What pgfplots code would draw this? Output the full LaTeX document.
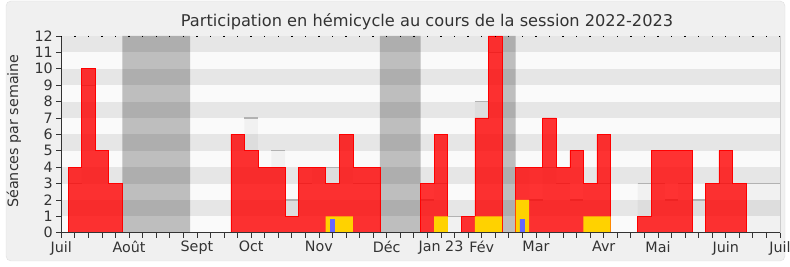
\documentclass[border=0pt]{standalone}
\usepackage{fontspec}
\setmainfont{DejaVu Sans}
\usepackage{pgfplots}
\pgfplotsset{compat=1.18}
\definecolor{stripe}{HTML}{E6E6E6}
\definecolor{bgw}{HTML}{FAFAFA}
\definecolor{panel}{HTML}{F0F0F0}
\definecolor{txt}{HTML}{333333}
\definecolor{gold}{HTML}{FFD200}
\definecolor{bluebar}{HTML}{6666FF}
\begin{document}
\begin{tikzpicture}
\path[use as bounding box, fill=white] (0,0) rectangle (790pt,267pt);
\draw[fill=panel, draw=black!12, rounded corners=5pt] (6pt,6pt) rectangle (785pt,266pt);
\node[anchor=base, text=txt, font=\fontsize{16.2}{18}\selectfont] at (427pt,240.8pt) {Participation en hémicycle au cours de la session 2022-2023};
\node[rotate=90, text=txt, font=\fontsize{14.3}{17}\selectfont] at (14pt,136pt) {Séances par semaine};
\begin{axis}[
  at={(61.3pt,34.3pt)}, anchor=south west,
  scale only axis, width=718.7pt, height=196.7pt,
  xmin=0, xmax=53, ymin=0, ymax=12,
  axis x line*=bottom, axis y line*=left,
  axis line style={draw=txt, line width=0.8pt, -},
  xtick={0,5,10,14,19,24,28,31,35,40,44,49,53},
  xticklabels={Juil,Août,Sept,Oct,Nov,Déc,Jan 23,Fév,Mar,Avr,Mai,Juin,Juil},
  minor xtick={0,...,53},
  ytick={0,...,12},
  tick align=outside, major tick length=5pt, minor tick length=5pt,
  tick style={draw=txt, line width=0.8pt},
  ticklabel style={font=\fontsize{14.3}{16}\selectfont, text=txt},
  /pgf/number format/assume math mode=true,
  axis background/.style={fill=bgw},
  unbounded coords=jump,
  axis on top,
]
\addplot[draw=none, fill=stripe] coordinates {(0,1)(53,1)(53,2)(0,2)};
\addplot[draw=none, fill=stripe] coordinates {(0,3)(53,3)(53,4)(0,4)};
\addplot[draw=none, fill=stripe] coordinates {(0,5)(53,5)(53,6)(0,6)};
\addplot[draw=none, fill=stripe] coordinates {(0,7)(53,7)(53,8)(0,8)};
\addplot[draw=none, fill=stripe] coordinates {(0,9)(53,9)(53,10)(0,10)};
\addplot[draw=none, fill=stripe] coordinates {(0,11)(53,11)(53,12)(0,12)};
% vacances
\addplot[const plot, draw=none, fill=black, fill opacity=0.24] coordinates {(4.5,12)(9.5,0)(23.5,12)(26.5,0)(32.5,12)(33.5,0)} \closedcycle;
% mediane
\addplot[const plot, draw=none, fill=black, fill opacity=0.035] coordinates {(0.5,3)(1.5,9)(2.5,5)(3.5,3)(4.5,0)(12.5,6)(13.5,7)(14.5,4)(15.5,5)(16.5,2)(17.5,3)(18.5,4)(19.5,4)(20.5,6)(21.5,3)(23.5,0)(26.5,2)(27.5,3)(28.5,1)(30.5,8)(31.5,11)(32.5,0)(33.5,4)(34.5,2)(35.5,4)(36.5,3)(37.5,2)(38.5,3)(40.5,0)(42.5,3)(44.5,2)(45.5,3)(46.5,2)(47.5,3)(53,3)} \closedcycle;
\addplot[draw=black!30, line width=1.2pt] coordinates {
(0.5,3)(1.5,3)(1.5,nan)(1.5,9)(2.5,9)(2.5,nan)(2.5,5)(3.5,5)(3.5,nan)(3.5,3)(4.5,3)(4.5,nan)
(12.5,6)(13.5,6)(13.5,nan)(13.5,7)(14.5,7)(14.5,nan)(14.5,4)(15.5,4)(15.5,nan)(15.5,5)(16.5,5)(16.5,nan)
(16.5,2)(17.5,2)(17.5,nan)(17.5,3)(18.5,3)(18.5,nan)(18.5,4)(20.5,4)(20.5,nan)(20.5,6)(21.5,6)(21.5,nan)
(21.5,3)(23.5,3)(23.5,nan)(26.5,2)(27.5,2)(27.5,nan)(27.5,3)(28.5,3)(28.5,nan)(28.5,1)(30.5,1)(30.5,nan)
(30.5,8)(31.5,8)(31.5,nan)(31.5,11)(32.5,11)(32.5,nan)(33.5,4)(34.5,4)(34.5,nan)(34.5,2)(35.5,2)(35.5,nan)
(35.5,4)(36.5,4)(36.5,nan)(36.5,3)(37.5,3)(37.5,nan)(37.5,2)(38.5,2)(38.5,nan)(38.5,3)(40.5,3)(40.5,nan)
(42.5,3)(44.5,3)(44.5,nan)(44.5,2)(45.5,2)(45.5,nan)(45.5,3)(46.5,3)(46.5,nan)(46.5,2)(47.5,2)(47.5,nan)
(47.5,3)(53,3)};
% presences
\addplot[const plot, fill=red, fill opacity=0.8, draw=red, line width=0.6pt] coordinates {(0.5,4)(1.5,10)(2.5,5)(3.5,3)(4.5,0)(12.5,6)(13.5,5)(14.5,4)(15.5,4)(16.5,1)(17.5,4)(18.5,4)(19.5,3)(20.5,6)(21.5,4)(22.5,4)(23.5,0)(26.5,3)(27.5,6)(28.5,0)(29.5,1)(30.5,7)(31.5,12)(32.5,0)(33.5,4)(34.5,4)(35.5,7)(36.5,4)(37.5,5)(38.5,3)(39.5,6)(40.5,0)(42.5,1)(43.5,5)(44.5,5)(45.5,5)(46.5,0)(47.5,3)(48.5,5)(49.5,3)(50.5,0)} \closedcycle;
% interventions
\addplot[const plot, draw=none, fill=gold] coordinates {(19.5,1)(21.5,0)(27.5,1)(28.5,0)(30.5,1)(32.5,0)(33.5,2)(34.5,0)(38.5,1)(40.5,0)} \closedcycle;
% questions
\addplot[const plot, draw=none, fill=bluebar] coordinates {(19.82,0.83)(20.18,0)(33.82,0.83)(34.18,0)} \closedcycle;
\end{axis}
\begin{axis}[
  at={(61.3pt,34.3pt)}, anchor=south west,
  scale only axis, width=718.7pt, height=196.7pt,
  xmin=0, xmax=53, ymin=0, ymax=12,
  axis x line*=top, axis y line*=right,
  x axis line style={draw=none},
  y axis line style={draw=black!20, line width=0.8pt, -},
  xtick={0,...,53}, xticklabels={}, ytick=\empty,
  tick align=inside, major tick length=1.4pt,
  x tick style={draw=black, line width=1.4pt},
]
\addplot[draw=none] coordinates {(0,0)};
\end{axis}
\end{tikzpicture}
\end{document}
